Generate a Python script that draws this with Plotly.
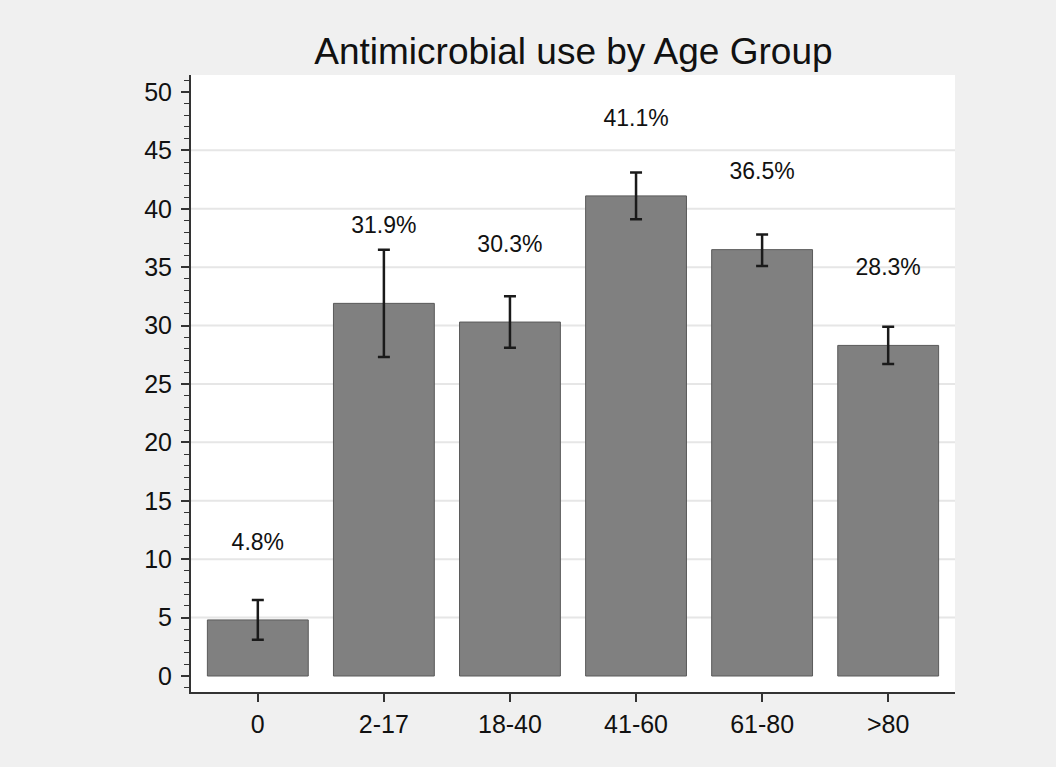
import plotly.graph_objects as go

# Data
age_groups = ['0', '2-17', '18-40', '41-60', '61-80', '>80']
pct_use = [4.8, 31.9, 30.3, 41.1, 36.5, 28.3]
ci_low = [3.1, 27.3, 28.1, 39.1, 35.1, 26.7]
ci_high = [6.5, 36.5, 32.5, 43.1, 37.8, 29.9]
y_ticks = [0, 5, 10, 15, 20, 25, 30, 35, 40, 45, 50]

err_plus = [h - v for h, v in zip(ci_high, pct_use)]
err_minus = [v - l for l, v in zip(ci_low, pct_use)]
labels = [f'{v:.1f}%' for v in pct_use]
label_pos = [v + 6.5 for v in pct_use]

fig = go.Figure()

# light gridlines at inner major ticks
for t in y_ticks[1:-1]:
    fig.add_shape(type='line', xref='paper', x0=0, x1=1, yref='y', y0=t, y1=t,
                  line=dict(color='#E6E6E6', width=2), layer='below')

fig.add_trace(go.Bar(
    x=age_groups, y=pct_use, width=0.8,
    marker=dict(color='#808080', line=dict(color='#5A5A5A', width=1)),
    error_y=dict(type='data', array=err_plus, arrayminus=err_minus,
                 color='#1A1A1A', thickness=2.5, width=6),
    showlegend=False,
))

fig.add_trace(go.Scatter(
    x=age_groups, y=label_pos, mode='text', text=labels,
    textfont=dict(size=23, color='#111111', family='Liberation Sans, Arial'),
    showlegend=False, hoverinfo='skip',
))

fig.update_layout(
    width=1056, height=767,
    paper_bgcolor='#F0F0F0', plot_bgcolor='white',
    margin=dict(l=191, r=101, t=75, b=75),
    font=dict(family='Liberation Sans, Arial', size=25, color='#111111'),
    title=dict(text='Antimicrobial use by Age Group', x=0.543, xanchor='center',
               xref='container', yref='container',
               y=1 - 51 / 767, yanchor='middle', font=dict(size=37)),
)

fig.update_xaxes(
    range=[-0.53, 5.53], showgrid=False, showline=True, linecolor='#333333',
    linewidth=2, ticks='outside', ticklen=8, tickwidth=1.5, tickcolor='#333333',
    zeroline=False, ticklabelstandoff=1,
)
fig.update_yaxes(
    range=[-1.37, 51.45], tickvals=y_ticks, showgrid=False, zeroline=False,
    showline=True, linecolor='#333333', linewidth=2, ticks='outside',
    ticklen=8, tickwidth=1.5, tickcolor='#333333', ticklabelstandoff=4,
    minor=dict(dtick=1, tick0=0, ticks='outside', ticklen=5, tickcolor='#333333',
               tickwidth=1, showgrid=False),
)

fig.write_html('out.html', config={'displayModeBar': False},
               post_script="document.body.style.margin='0';"
                           "document.body.style.background='#F0F0F0';")
